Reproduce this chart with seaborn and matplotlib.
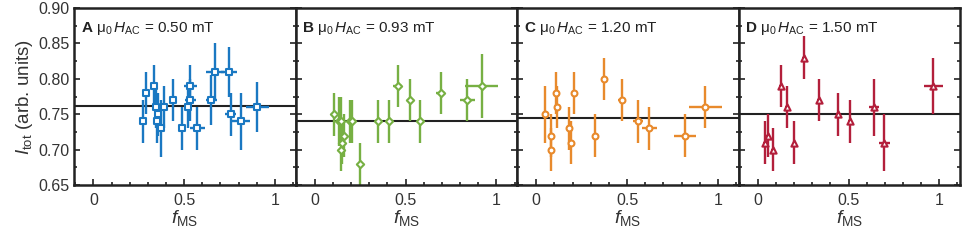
import numpy as np
import pandas as pd
import matplotlib
matplotlib.use("Agg")
import matplotlib.pyplot as plt
from matplotlib.ticker import MultipleLocator
import seaborn as sns

# Datos (f_MS, I_tot y sus barras de error)
a_x = [0.276, 0.289, 0.336, 0.345, 0.348, 0.354, 0.372, 0.388, 0.436, 0.488,
       0.521, 0.535, 0.535, 0.573, 0.650, 0.668, 0.746, 0.757, 0.815, 0.904]
a_y = [0.74, 0.78, 0.79, 0.76, 0.74, 0.75, 0.73, 0.76, 0.77, 0.73,
       0.76, 0.79, 0.77, 0.73, 0.77, 0.81, 0.81, 0.75, 0.74, 0.76]
a_xerr = [0.01, 0.01, 0.01, 0.01, 0.01, 0.01, 0.01, 0.015, 0.015, 0.015,
          0.01, 0.035, 0.03, 0.04, 0.03, 0.05, 0.045, 0.03, 0.05, 0.065]
a_yerr = [0.03, 0.03, 0.03, 0.03, 0.03, 0.03, 0.04, 0.03, 0.03, 0.03,
          0.03, 0.03, 0.03, 0.03, 0.035, 0.04, 0.035, 0.03, 0.04, 0.035]

b_x = [0.108, 0.132, 0.144, 0.159, 0.151, 0.144, 0.195, 0.207, 0.247, 0.346,
       0.409, 0.456, 0.526, 0.577, 0.694, 0.840, 0.919]
b_y = [0.75, 0.74, 0.74, 0.72, 0.71, 0.70, 0.74, 0.74, 0.68, 0.74,
       0.74, 0.79, 0.77, 0.74, 0.78, 0.77, 0.79]
b_xerr = [0.01, 0.01, 0.01, 0.01, 0.01, 0.01, 0.01, 0.01, 0.01, 0.015,
          0.015, 0.025, 0.015, 0.015, 0.025, 0.04, 0.09]
b_yerr = [0.03, 0.035, 0.035, 0.03, 0.03, 0.03, 0.03, 0.03, 0.03, 0.03,
          0.03, 0.03, 0.03, 0.03, 0.03, 0.03, 0.045]

c_x = [0.048, 0.081, 0.081, 0.106, 0.113, 0.180, 0.192, 0.206, 0.323, 0.375,
       0.470, 0.560, 0.623, 0.817, 0.932]
c_y = [0.75, 0.72, 0.70, 0.78, 0.76, 0.73, 0.71, 0.78, 0.72, 0.80,
       0.77, 0.74, 0.73, 0.72, 0.76]
c_xerr = [0.01, 0.01, 0.01, 0.01, 0.01, 0.01, 0.01, 0.01, 0.01, 0.01,
          0.02, 0.03, 0.04, 0.06, 0.09]
c_yerr = [0.04, 0.03, 0.03, 0.03, 0.03, 0.03, 0.03, 0.03, 0.03, 0.03,
          0.03, 0.03, 0.03, 0.03, 0.03]

d_x = [0.040, 0.054, 0.083, 0.126, 0.162, 0.202, 0.256, 0.339, 0.441, 0.508,
       0.640, 0.697, 0.968]
d_y = [0.71, 0.72, 0.70, 0.79, 0.76, 0.71, 0.83, 0.77, 0.75, 0.74,
       0.76, 0.71, 0.79]
d_xerr = [0.01, 0.01, 0.01, 0.01, 0.01, 0.01, 0.01, 0.01, 0.01, 0.01,
          0.03, 0.03, 0.05]
d_yerr = [0.03, 0.03, 0.03, 0.03, 0.03, 0.03, 0.03, 0.03, 0.03, 0.03,
          0.04, 0.04, 0.04]

# Valor medio (línea horizontal) de cada panel
medias = [0.762, 0.741, 0.745, 0.750]
letras = ["A", "B", "C", "D"]
campos = ["0.50", "0.93", "1.20", "1.50"]
colores = ["#1a78c2", "#77b043", "#e88a2c", "#b31f3b"]
marcadores = ["s", "D", "o", "^"]


def main():
    sns.set_theme(style="ticks")
    plt.rcParams["font.family"] = ["Liberation Sans", "DejaVu Sans"]
    plt.rcParams["mathtext.fontset"] = "custom"
    plt.rcParams["mathtext.rm"] = "Liberation Sans"
    plt.rcParams["mathtext.it"] = "Liberation Sans:italic"
    plt.rcParams["mathtext.bf"] = "Liberation Sans:bold"

    paneles = [
        (a_x, a_y, a_xerr, a_yerr),
        (b_x, b_y, b_xerr, b_yerr),
        (c_x, c_y, c_xerr, c_yerr),
        (d_x, d_y, d_xerr, d_yerr),
    ]

    fig, axes = plt.subplots(1, 4, figsize=(9.65, 2.42), dpi=100, sharey=True)
    fig.subplots_adjust(left=0.077, right=0.995, top=0.967, bottom=0.235, wspace=0)

    for i, ax in enumerate(axes):
        x, y, xe, ye = paneles[i]
        df = pd.DataFrame({"f": x, "I": y})
        ax.errorbar(x, y, xerr=xe, yerr=ye, fmt="none", ecolor=colores[i],
                    elinewidth=1.7, capsize=0, zorder=2)
        ax.axhline(medias[i], color="#222222", lw=1.5, zorder=1)
        # tamaños de marcador más pequeños, como en la figura original
        tam = {"s": 16, "D": 14, "o": 18, "^": 20}[marcadores[i]]
        sns.scatterplot(data=df, x="f", y="I", ax=ax, marker=marcadores[i],
                        s=tam, facecolor="white", edgecolor=colores[i],
                        linewidth=1.5, zorder=3)

        ax.set_xlim(-0.105, 1.115)
        ax.set_ylim(0.65, 0.90)
        ax.xaxis.set_major_locator(MultipleLocator(0.5))
        ax.xaxis.set_minor_locator(MultipleLocator(0.1))
        ax.yaxis.set_major_locator(MultipleLocator(0.05))
        ax.yaxis.set_minor_locator(MultipleLocator(0.025))
        ax.xaxis.set_major_formatter(lambda v, p: f"{v:g}")
        ax.tick_params(which="both", direction="in", left=True, right=True,
                       width=1.2, color="#222222", labelsize=11.5,
                       labelcolor="#333333")
        ax.tick_params(which="major", length=4)
        ax.tick_params(which="minor", length=2.5)
        ax.tick_params(axis="x", pad=6)
        for s in ax.spines.values():
            s.set_visible(True)
            s.set_linewidth(1.8)
            s.set_color("#222222")

        ax.set_xlabel(r"$\mathit{f}_{\mathrm{MS}}$", fontsize=14, color="#333333",
                      labelpad=0)
        ax.set_ylabel("")
        ax.text(0.03, 0.93,
                r"$\mathbf{" + letras[i] + r"}$ μ$_0\,\mathit{H}_{\mathrm{AC}}$ = "
                + campos[i] + " mT",
                transform=ax.transAxes, fontsize=11, va="top", ha="left",
                color="#222222")

    axes[0].yaxis.set_major_formatter(lambda v, p: f"{v:.2f}")
    axes[0].set_ylabel(r"$\mathit{I}_{\mathrm{tot}}$ (arb. units)", fontsize=13.5,
                       color="#333333", labelpad=2)
    for ax in axes[1:]:
        ax.tick_params(labelleft=False)

    plt.savefig("out.png", dpi=100)


if __name__ == "__main__":
    main()
